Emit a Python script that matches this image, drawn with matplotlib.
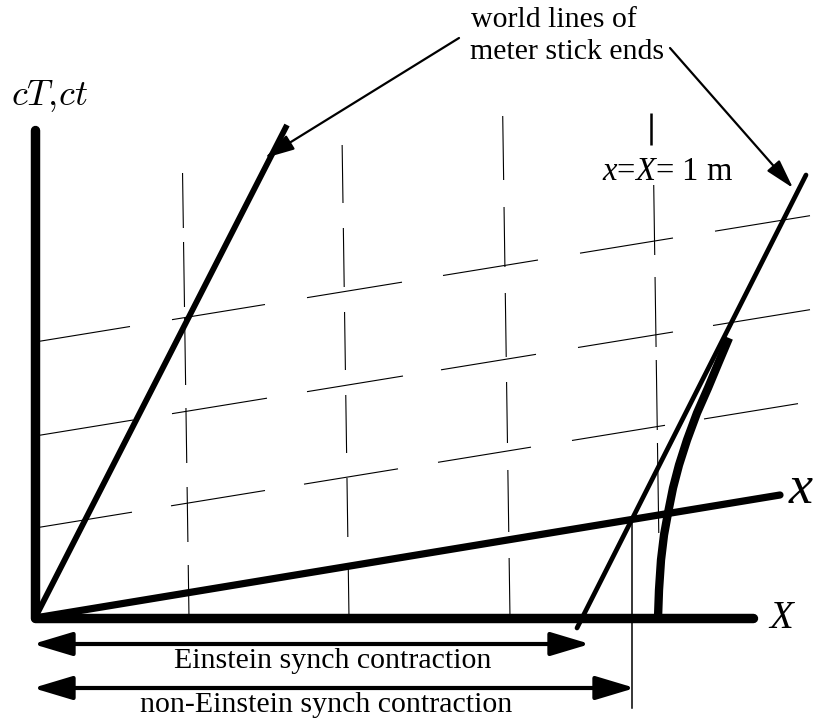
import matplotlib
matplotlib.use("Agg")
import matplotlib.pyplot as plt

plt.rcParams['font.family'] = ['Liberation Serif', 'DejaVu Serif']
plt.rcParams['mathtext.fontset'] = 'custom'
plt.rcParams['mathtext.rm'] = 'Liberation Serif'
plt.rcParams['mathtext.it'] = 'Liberation Serif:italic'

# geometry of the diagram, in picture pixels (y grows downward)
origin = (35, 618)
ct_axis_top = 130
X_axis_end = 753
x_axis_end = (780, 495)

left_world_x = [35, 287]
left_world_y = [618, 125]
right_world_x = [577, 806]
right_world_y = [628, 175]

# accelerated far end of the stick
curve_x = [658, 659, 661, 664, 668, 673, 679, 687, 697, 708, 718, 729]
curve_y = [618, 590, 560, 535, 513, 488, 465, 440, 413, 388, 364, 338]

# dashed grid: near-vertical columns
column_x = [189, 349, 510, 660]
column_tilt = 0.0145
column_dashes = [
    [(173, 228), (242, 307), (318, 385), (408, 463), (487, 542), (565, 618)],
    [(145, 203), (228, 287), (312, 370), (395, 453), (478, 537), (568, 618)],
    [(116, 180), (207, 267), (293, 357), (382, 443), (470, 532), (558, 618)],
    [(185, 255), (277, 347), (360, 430), (443, 533)],
]

# dashed grid: rows parallel to the x axis
row_y0 = [528, 436, 342]
row_slope = -0.163
row_dashes = [
    [(40, 132), (171, 265), (304, 398), (438, 531), (572, 665), (704, 798)],
    [(40, 133), (172, 267), (307, 403), (441, 536), (578, 673), (713, 810)],
    [(40, 130), (172, 265), (307, 402), (443, 538), (580, 673), (715, 810)],
]

meter_tick_x = 651
meter_tick_y = (113, 145)
non_einstein_x = 632
non_einstein_y = (517, 708)

einstein_arrow = (33, 590, 644)
non_einstein_arrow = (33, 635, 688)

label_arrows = [((459, 38), (265, 158)), ((670, 48), (793, 188))]

fig = plt.figure(figsize=(8.17, 7.21), dpi=100)
ax = fig.add_axes([0, 0, 1, 1])
ax.set_xlim(0, 817)
ax.set_ylim(721, 0)
ax.axis('off')

# grid
for xb, dashes in zip(column_x, column_dashes):
    for y1, y2 in dashes:
        ax.plot([xb - (origin[1] - y1) * column_tilt, xb - (origin[1] - y2) * column_tilt],
                [y1, y2], color='black', lw=0.8, solid_capstyle='butt', zorder=1)
for y0, dashes in zip(row_y0, row_dashes):
    for x1, x2 in dashes:
        ax.plot([x1, x2], [y0 + row_slope * (x1 - origin[0]), y0 + row_slope * (x2 - origin[0])],
                color='black', lw=0.8, solid_capstyle='butt', zorder=1)

ax.plot([meter_tick_x, meter_tick_x], meter_tick_y, color='black', lw=1.8,
        solid_capstyle='butt', zorder=2)
ax.plot([non_einstein_x, non_einstein_x], non_einstein_y, color='black', lw=1.1, zorder=2)

# axes
ax.plot([origin[0], origin[0], X_axis_end], [ct_axis_top, origin[1], origin[1]],
        color='black', lw=6.8, solid_capstyle='round', solid_joinstyle='round', zorder=4)
ax.plot([origin[0], x_axis_end[0]], [origin[1], x_axis_end[1]], color='black', lw=5.2,
        solid_capstyle='round', zorder=4)

# world lines
ax.plot(left_world_x, left_world_y, color='black', lw=4.2, solid_capstyle='butt', zorder=3)
ax.plot(right_world_x, right_world_y, color='black', lw=3.4, solid_capstyle='round', zorder=3)
ax.plot(curve_x, curve_y, color='black', lw=6.0, solid_capstyle='butt',
        solid_joinstyle='round', zorder=3)

# contraction arrows
for x1, x2, y in [einstein_arrow, non_einstein_arrow]:
    ax.annotate('', xy=(x2, y), xytext=(x1, y),
                arrowprops=dict(arrowstyle='<|-|>,head_length=1.0,head_width=0.3',
                                mutation_scale=24, lw=3.0, color='black',
                                shrinkA=0, shrinkB=0), zorder=5)

# label arrows
for start, tip in label_arrows:
    ax.annotate('', xy=tip, xytext=start,
                arrowprops=dict(arrowstyle='-|>,head_length=1.0,head_width=0.28',
                                mutation_scale=18, lw=1.6, color='black',
                                shrinkA=0, shrinkB=0), zorder=5)

# texts
ax.text(471, 27, 'world lines of', fontsize=21.5, ha='left', va='baseline')
ax.text(470, 59, 'meter stick ends', fontsize=21.5, ha='left', va='baseline')
ax.text(602, 180, '$x$=$X$= 1 m', fontsize=23.5, ha='left', va='baseline')
ax.text(11, 105, r'$cT,\!ct$', fontsize=26, ha='left', va='baseline', math_fontfamily='cm')
ax.text(789, 503, 'x', fontsize=39, style='italic', ha='left', va='baseline')
ax.text(769, 628, 'X', fontsize=28, style='italic', ha='left', va='baseline')
ax.text(333, 668, 'Einstein synch contraction', fontsize=21.5, ha='center', va='baseline')
ax.text(326, 712, 'non-Einstein synch contraction', fontsize=21.5, ha='center', va='baseline')

fig.savefig('out.png', dpi=100)
